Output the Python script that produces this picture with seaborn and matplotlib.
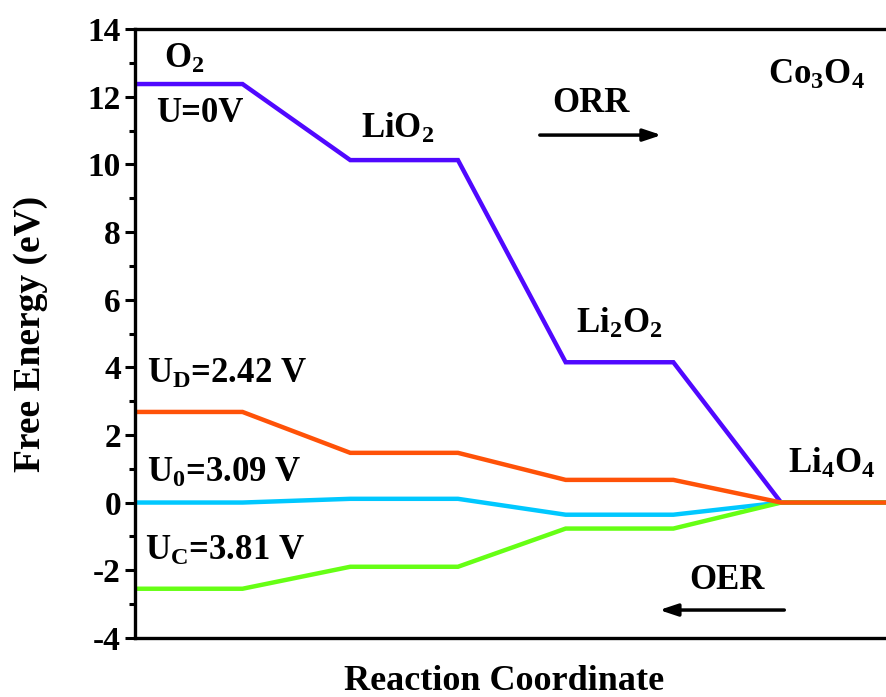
import matplotlib
matplotlib.use("Agg")
import matplotlib.pyplot as plt
import seaborn as sns
import pandas as pd

# Free-energy levels of each intermediate (eV): O2, LiO2, Li2O2, Li4O4
species = ["O2", "LiO2", "Li2O2", "Li4O4"]
series_names = ["U=0V", "U0=3.09 V", "UC=3.81 V", "UD=2.42 V"]
level_u0v = [12.38, 10.13, 4.15, 0.0]
level_ueq = [0.0, 0.11, -0.36, 0.0]
level_uc = [-2.55, -1.90, -0.77, 0.0]
level_ud = [2.68, 1.47, 0.67, 0.0]
series_levels = [level_u0v, level_ueq, level_uc, level_ud]
series_colors = ["#5008FF", "#00C8FF", "#66FF14", "#FF5208"]

yticks = [-4, -2, 0, 2, 4, 6, 8, 10, 12, 14]

sns.set_theme(style="ticks")
plt.rcParams["font.family"] = ["Liberation Serif", "DejaVu Serif"]
plt.rcParams["font.weight"] = "bold"
plt.rcParams["axes.unicode_minus"] = False
plt.rcParams["text.color"] = "black"
plt.rcParams["axes.labelcolor"] = "black"
plt.rcParams["xtick.color"] = "black"
plt.rcParams["ytick.color"] = "black"
plt.rcParams["mathtext.fontset"] = "custom"
plt.rcParams["mathtext.rm"] = "Liberation Serif:bold"
plt.rcParams["mathtext.it"] = "Liberation Serif:bold"
plt.rcParams["mathtext.bf"] = "Liberation Serif:bold"

# Each level is a flat step of width 1, joined to the next by a sloped link
rows = []
for name, levels in zip(series_names, series_levels):
    for i, g in enumerate(levels):
        rows.append({"series": name, "x": 2 * i, "G": g})
        rows.append({"series": name, "x": 2 * i + 1, "G": g})
df = pd.DataFrame(rows)

fig = plt.figure(figsize=(8.87, 6.97), dpi=100)
ax = fig.add_axes([0.152, 0.085, 0.85, 0.873])

sns.lineplot(data=df, x="x", y="G", hue="series", hue_order=series_names,
             palette=series_colors, estimator=None, linewidth=3.2,
             legend=False, ax=ax, solid_joinstyle="miter")

ax.set_xlim(0, 7)
ax.set_ylim(-4, 14)
ax.set_yticks(yticks)
ax.set_yticks([-3, -1, 1, 3, 5, 7, 9, 11, 13], minor=True)
ax.set_xticks([])
ax.tick_params(axis="y", which="major", direction="out", length=7, width=2.2,
               labelsize=24, pad=3, colors="black")
ax.tick_params(axis="y", which="minor", direction="out", length=4, width=2.2,
               colors="black")
for lab in ax.get_yticklabels():
    lab.set_fontweight("bold")
for side in ["left", "bottom", "top"]:
    ax.spines[side].set_linewidth(2.4)
    ax.spines[side].set_color("black")
ax.spines["right"].set_visible(False)

ax.set_xlabel("Reaction Coordinate", fontsize=26, fontweight="bold")
ax.set_ylabel("Free Energy (eV)", fontsize=27, fontweight="bold")
ax.xaxis.set_label_coords(0.49, -0.045)
ax.yaxis.set_label_coords(-0.115, 0.5)

tkw = dict(fontsize=25, fontweight="bold", va="center", ha="left",
           color="black")
ax.text(0.27, 13.1, r"$\mathrm{O_2}$", **tkw)
ax.text(0.2, 11.5, "U=0V", **tkw)
ax.text(2.1, 11.05, r"$\mathrm{LiO_2}$", **tkw)
ax.text(4.1, 5.3, r"$\mathrm{Li_2O_2}$", **tkw)
ax.text(6.06, 1.15, r"$\mathrm{Li_4O_4}$", **tkw)
ax.text(5.88, 12.65, r"$\mathrm{Co_3O_4}$", **tkw)
ax.text(3.88, 11.8, "ORR", **tkw)
ax.text(5.15, -2.3, "OER", **tkw)
ax.text(0.11, 3.8, r"$\mathrm{U_D}$=2.42 V", **tkw)
ax.text(0.11, 0.85, r"$\mathrm{U_0}$=3.09 V", **tkw)
ax.text(0.09, -1.45, r"$\mathrm{U_C}$=3.81 V", **tkw)

arrow_kw = dict(arrowstyle="-|>,head_length=0.9,head_width=0.3", color="black",
                lw=2.5, shrinkA=0, shrinkB=0)
ax.annotate("", xy=(4.89, 10.87), xytext=(3.76, 10.87), arrowprops=arrow_kw)
ax.annotate("", xy=(4.87, -3.18), xytext=(6.03, -3.18), arrowprops=arrow_kw)

fig.savefig("out.png", dpi=100)
